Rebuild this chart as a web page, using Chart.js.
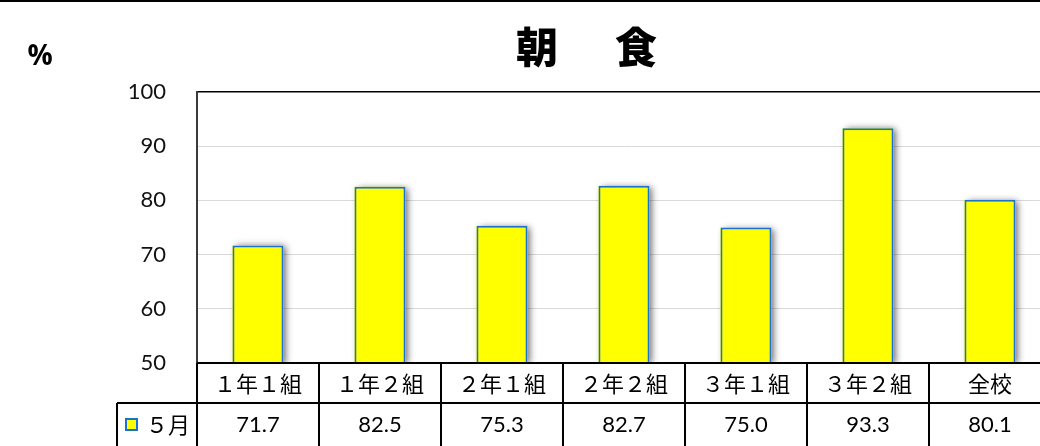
<!DOCTYPE html>
<html>
<head>
<meta charset="utf-8">
<script src="https://cdn.jsdelivr.net/npm/chart.js@4"></script>
<style>
  html, body { margin: 0; padding: 0; background: #fff; overflow: hidden; }
  #wrap { width: 1040px; height: 446px; overflow: hidden; }
  canvas { display: block; }
</style>
</head>
<body>
<div id="wrap"><canvas id="c" width="1060" height="446"></canvas></div>
<script>
// 朝食の摂取率（5月）
const categories = ['１年１組', '１年２組', '２年１組', '２年２組', '３年１組', '３年２組', '全校'];
const mayValues = [71.7, 82.5, 75.3, 82.7, 75.0, 93.3, 80.1];
const seriesName = '５月';
const yTicks = [50, 60, 70, 80, 90, 100];
const titleChars = ['朝', '食'];
const unitLabel = '%';

const YELLOW = '#ffff00';
const BLUE = '#1a72d0';
const NUM_FONT = '"Lato", "Open Sans", sans-serif';
const JP_FONT = '"Noto Sans CJK JP", sans-serif';

// Soft drop shadow behind each bar, kept inside the plot area
const barShadow = {
  id: 'barShadow',
  beforeDatasetsDraw(chart) {
    const ctx = chart.ctx;
    const area = chart.chartArea;
    const meta = chart.getDatasetMeta(0);
    ctx.save();
    ctx.beginPath();
    ctx.rect(area.left, area.top - 10, area.right - area.left + 10, area.bottom - area.top + 10);
    ctx.clip();
    ctx.shadowColor = 'rgba(0,0,0,0.6)';
    ctx.shadowBlur = 7;
    ctx.shadowOffsetX = 3;
    ctx.shadowOffsetY = 1;
    ctx.fillStyle = YELLOW;
    meta.data.forEach(bar => {
      const p = bar.getProps(['x', 'y', 'width'], true);
      ctx.fillRect(p.x - p.width / 2, p.y, p.width, area.bottom - p.y);
    });
    ctx.restore();
  }
};

// Title, unit, outer frame line and the data table under the plot
const decorations = {
  id: 'decorations',
  afterDraw(chart) {
    const ctx = chart.ctx;
    const area = chart.chartArea;
    const x = chart.scales.x;
    const W = chart.width, H = chart.height;
    ctx.save();

    // frame line along the top edge
    ctx.strokeStyle = '#000';
    ctx.lineWidth = 2;
    ctx.beginPath(); ctx.moveTo(0, 1); ctx.lineTo(W, 1); ctx.stroke();

    // title
    ctx.fillStyle = '#000';
    ctx.textAlign = 'center';
    ctx.textBaseline = 'middle';
    ctx.font = '900 42px ' + JP_FONT;
    ctx.fillText(titleChars[0], 537, 47);
    ctx.fillText(titleChars[1], 636, 47);

    // unit
    ctx.font = 'bold 28px "Open Sans", "Liberation Sans", sans-serif';
    ctx.fillText(unitLabel, 40, 57);

    // table geometry from the category scale
    const colW = (area.right - area.left) / categories.length;
    const row1Top = area.bottom;
    const row1Bot = area.bottom + 40;
    const legendLeft = area.left - 80;
    const bottom = H + 5;

    ctx.strokeStyle = '#000';
    ctx.lineWidth = 2;
    ctx.beginPath();
    ctx.moveTo(area.left, row1Top); ctx.lineTo(area.right, row1Top);
    ctx.moveTo(legendLeft, row1Bot); ctx.lineTo(area.right, row1Bot);
    ctx.moveTo(area.left, row1Top); ctx.lineTo(area.left, bottom);
    ctx.moveTo(legendLeft, row1Bot); ctx.lineTo(legendLeft, bottom);
    categories.forEach((c, i) => {
      const right = x.getPixelForValue(i) + colW / 2;
      ctx.moveTo(right, row1Top); ctx.lineTo(right, bottom);
    });
    ctx.stroke();

    // category labels
    ctx.fillStyle = '#000';
    ctx.font = '22px ' + JP_FONT;
    categories.forEach((c, i) => {
      ctx.fillText(c, x.getPixelForValue(i), (row1Top + row1Bot) / 2 + 1);
    });

    // values
    const row2Mid = row1Bot + 22;
    ctx.font = '22px ' + NUM_FONT;
    mayValues.forEach((v, i) => {
      ctx.fillText(v.toFixed(1), x.getPixelForValue(i), row2Mid);
    });

    // legend key
    ctx.fillStyle = YELLOW;
    ctx.strokeStyle = BLUE;
    ctx.lineWidth = 2;
    ctx.fillRect(legendLeft + 9, row2Mid - 6, 11, 11);
    ctx.strokeRect(legendLeft + 9, row2Mid - 6, 11, 11);
    ctx.fillStyle = '#000';
    ctx.textAlign = 'left';
    ctx.font = '22px ' + JP_FONT;
    ctx.fillText(seriesName, legendLeft + 29, row2Mid);

    ctx.restore();
  }
};

new Chart(document.getElementById('c'), {
  type: 'bar',
  data: {
    labels: categories,
    datasets: [{
      label: seriesName,
      data: mayValues,
      backgroundColor: YELLOW,
      borderColor: BLUE,
      borderWidth: 2,
      borderSkipped: false,
      categoryPercentage: 1,
      barPercentage: 0.418
    }]
  },
  options: {
    responsive: false,
    animation: false,
    devicePixelRatio: 1,
    layout: { padding: { top: 92, right: 9, bottom: 83, left: 0 } },
    plugins: {
      legend: { display: false },
      title: { display: false },
      tooltip: { enabled: false }
    },
    scales: {
      x: {
        display: false,
        grid: { display: false }
      },
      y: {
        min: 50,
        max: 100,
        afterFit(scale) { scale.width = 197; },
        afterBuildTicks(scale) { scale.ticks = yTicks.map(v => ({ value: v })); },
        border: { display: true, color: '#3a3a3a', width: 2 },
        grid: {
          drawTicks: false,
          color: ctx => ctx.tick.value === 100 ? '#000' : (ctx.tick.value === 50 ? 'rgba(0,0,0,0)' : '#d9d9d9'),
          lineWidth: ctx => ctx.tick.value === 100 ? 1.5 : 1
        },
        ticks: {
          padding: 31,
          color: '#111',
          font: { family: NUM_FONT, size: 22 }
        }
      }
    }
  },
  plugins: [barShadow, decorations]
});
</script>
</body>
</html>
